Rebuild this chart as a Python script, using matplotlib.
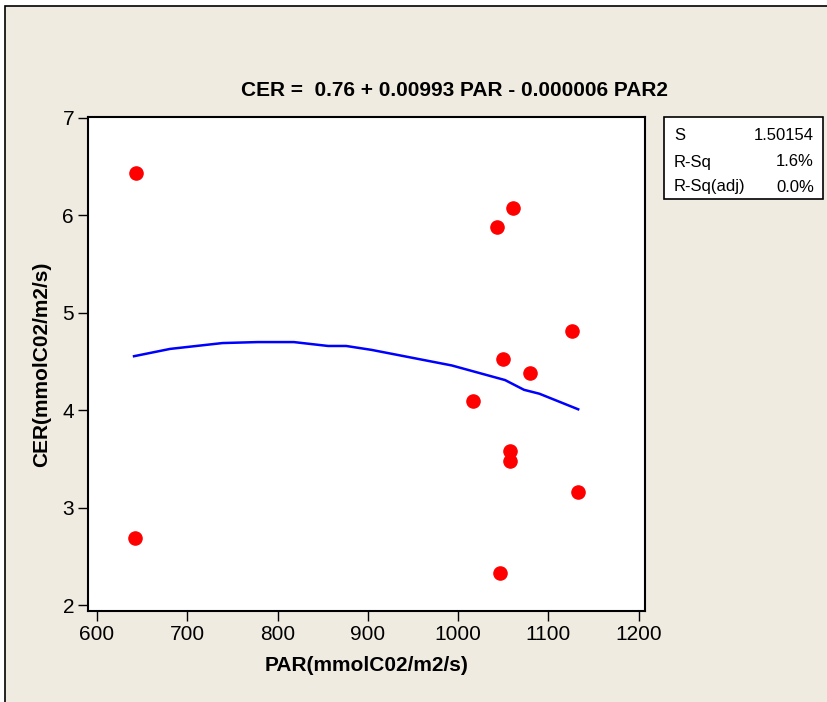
import matplotlib.pyplot as plt
from matplotlib.patches import Rectangle

plt.rcParams['font.family'] = ['Liberation Sans', 'DejaVu Sans']

# observed points
par = [643, 642, 1043, 1061, 1126, 1050, 1080, 1016, 1058, 1057, 1133, 1046]
cer = [6.44, 2.69, 5.88, 6.08, 4.81, 4.53, 4.38, 4.10, 3.58, 3.48, 3.16, 2.33]

# fitted curve as drawn
fit_x = [641, 681, 739, 778, 818, 856, 876, 904, 993, 1052, 1073, 1090, 1133]
fit_y = [4.555, 4.63, 4.69, 4.70, 4.70, 4.66, 4.66, 4.62, 4.46, 4.31, 4.21, 4.17, 4.01]

stat_names = ["S", "R-Sq", "R-Sq(adj)"]
stat_vals = ["1.50154", "1.6%", "0.0%"]

bg = "#efebe1"
fig = plt.figure(figsize=(8.28, 7.02), dpi=100)
fig.patch.set_facecolor("white")
fig.patches.append(Rectangle((5/828, -0.01), 1, 1.01 - 6/702, transform=fig.transFigure,
                             facecolor=bg, edgecolor="black", linewidth=1.2, zorder=-5))

ax = fig.add_axes([88/828, 1 - 611/702, 557/828, 494/702])
ax.set_zorder(2)
ax.set_facecolor("white")
ax.plot(fit_x, fit_y, color="#0000ff", linewidth=1.8, zorder=2)
ax.scatter(par, cer, s=90, color="#ff0000", zorder=3)

ax.set_xlim(590, 1207)
ax.set_ylim(1.94, 7.01)
ax.set_xticks(range(600, 1201, 100))
ax.set_yticks(range(2, 8))
ax.tick_params(direction="out", length=7, width=1, labelsize=15, pad=3)
for sp in ax.spines.values():
    sp.set_linewidth(1.5)

ax.set_xlabel("PAR(mmolC02/m2/s)", fontsize=15, fontweight="bold", labelpad=9)
ax.set_ylabel("CER(mmolC02/m2/s)", fontsize=15, fontweight="bold", labelpad=8)
fig.text(455/828, 1 - 90/702, "CER =  0.76 + 0.00993 PAR - 0.000006 PAR2",
         ha="center", va="center", fontsize=15, fontweight="bold")

# stats box
fig.patches.append(Rectangle((664/828, 1 - 199/702), 159/828, 82/702, transform=fig.transFigure,
                             facecolor="white", edgecolor="black", linewidth=1.2, zorder=1))
rows_y = [136, 162, 187]
for name, val, yy in zip(stat_names, stat_vals, rows_y):
    fig.text(674/828, 1 - yy/702, name, ha="left", va="center", fontsize=12, zorder=3)
    fig.text(814/828, 1 - yy/702, val, ha="right", va="center", fontsize=12, zorder=3)

plt.savefig("out.png", dpi=100, facecolor=fig.get_facecolor())
